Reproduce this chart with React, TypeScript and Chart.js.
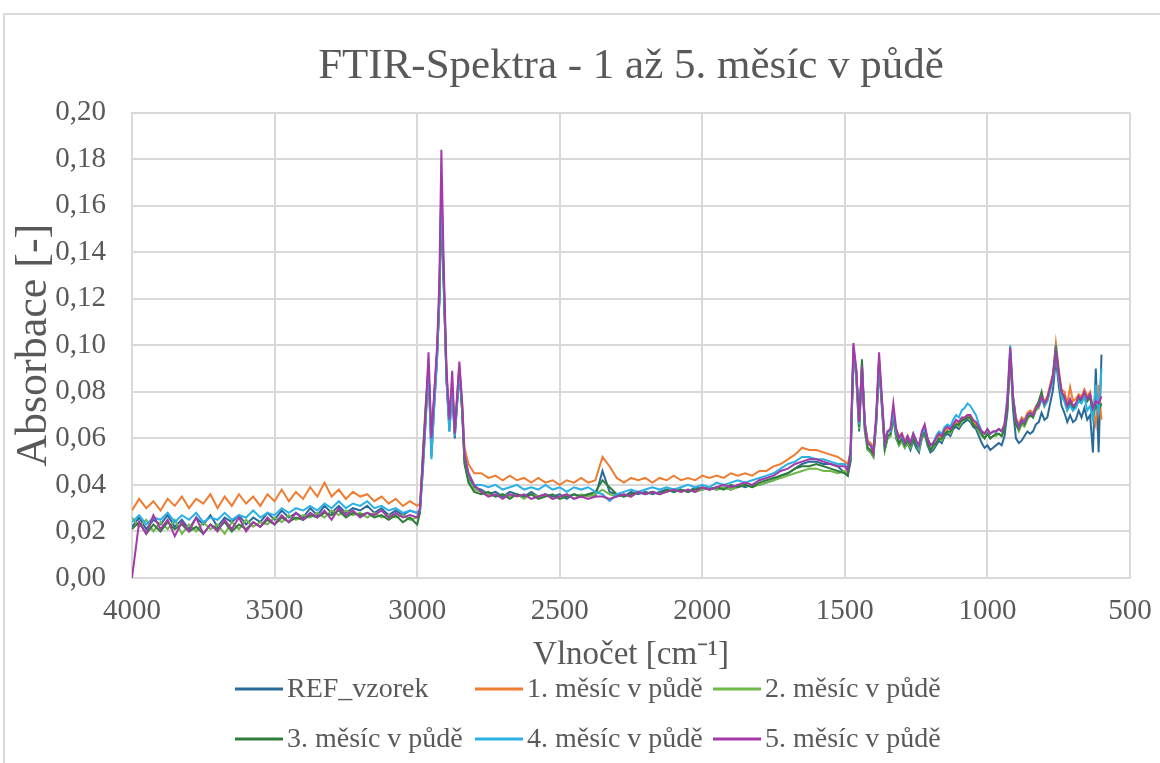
import React, { useEffect, useRef } from 'react';
import { Chart, registerables } from 'chart.js';

Chart.register(...registerables);

// Wavenumbers [cm-1] shared by all series
const wavenumbers = [
  4000, 3975, 3950, 3925, 3900, 3875, 3850, 3825, 3800, 3775,
  3750, 3725, 3700, 3675, 3650, 3625, 3600, 3575, 3550, 3525,
  3500, 3475, 3450, 3425, 3400, 3375, 3350, 3325, 3300, 3275,
  3250, 3225, 3200, 3175, 3150, 3125, 3100, 3075, 3050, 3025,
  3000,
  2990, 2980, 2970, 2960, 2950, 2940, 2930, 2922, 2915, 2907,
  2897, 2887, 2877, 2868, 2860, 2852, 2842, 2834, 2820, 2800,
  2775, 2750, 2725, 2700, 2675, 2650, 2625, 2600, 2575, 2550,
  2525, 2500, 2475, 2450, 2425, 2400, 2375, 2350, 2325, 2300,
  2275, 2250, 2225, 2200, 2175, 2150, 2125, 2100, 2075, 2050,
  2025, 2000, 1975, 1950, 1925, 1900, 1875, 1850, 1825, 1800,
  1775, 1750, 1725, 1700, 1675, 1650, 1625, 1600, 1575, 1550,
  1525,
  1500, 1490, 1480, 1470, 1460, 1450, 1440, 1430, 1420, 1410,
  1400, 1390, 1380, 1370, 1360, 1350, 1340, 1330, 1320, 1310,
  1300, 1290, 1280, 1270, 1260, 1250, 1240, 1230, 1220, 1210,
  1200, 1190, 1180, 1170, 1160, 1150, 1140, 1130, 1120, 1110,
  1100, 1090, 1080, 1070, 1060, 1050, 1040, 1030, 1020, 1010,
  1000, 990, 980, 970, 960, 950, 940, 930, 920, 910,
  900, 890, 880, 870, 860, 850, 840, 830, 820, 810,
  800, 790, 780, 770, 760, 750, 740, 730, 720, 710,
  700, 690, 680, 670, 660, 650, 640, 630, 620, 610,
  600,
];

const refVzorek = [
  0.022, 0.026, 0.021, 0.025, 0.023, 0.027, 0.022, 0.025, 0.021, 0.026,
  0.023, 0.027, 0.022, 0.026, 0.024, 0.027, 0.023, 0.026, 0.024, 0.028,
  0.025, 0.029, 0.026, 0.028, 0.026, 0.030, 0.027, 0.031, 0.028, 0.031,
  0.028, 0.030, 0.029, 0.031, 0.028, 0.030, 0.027, 0.029, 0.027, 0.029,
  0.028,
  0.029, 0.046, 0.068, 0.090, 0.052, 0.074, 0.095, 0.120, 0.170, 0.128,
  0.085, 0.063, 0.081, 0.060, 0.075, 0.089, 0.072, 0.051, 0.043, 0.039,
  0.038, 0.036, 0.037, 0.035, 0.037, 0.036, 0.035, 0.037, 0.035, 0.036,
  0.035, 0.036, 0.034, 0.036, 0.035, 0.036, 0.035, 0.046, 0.037, 0.036,
  0.035, 0.037, 0.036, 0.037, 0.036, 0.037, 0.038, 0.037, 0.038, 0.037,
  0.039, 0.038, 0.039, 0.038, 0.039, 0.038, 0.040, 0.039, 0.040, 0.040,
  0.041, 0.042, 0.044, 0.045, 0.047, 0.049, 0.050, 0.050, 0.049, 0.049,
  0.048,
  0.045, 0.044, 0.050, 0.096, 0.086, 0.063, 0.089, 0.063, 0.055, 0.054,
  0.052, 0.066, 0.091, 0.073, 0.055, 0.060, 0.061, 0.069, 0.060, 0.057,
  0.059, 0.056, 0.058, 0.055, 0.059, 0.056, 0.054, 0.060, 0.062, 0.057,
  0.054, 0.055, 0.057, 0.059, 0.058, 0.061, 0.062, 0.061, 0.064, 0.065,
  0.064, 0.066, 0.067, 0.068, 0.067, 0.065, 0.064, 0.061, 0.058, 0.056,
  0.057, 0.055, 0.056, 0.057, 0.058, 0.057, 0.061, 0.071, 0.097, 0.072,
  0.060, 0.058, 0.059, 0.061, 0.063, 0.062, 0.063, 0.066, 0.067, 0.071,
  0.068, 0.069, 0.075, 0.081, 0.094, 0.083, 0.074, 0.071, 0.067, 0.070,
  0.067, 0.068, 0.072, 0.069, 0.073, 0.068, 0.070, 0.054, 0.090, 0.054,
  0.096,
];

const mesic1 = [
  0.029, 0.034, 0.030, 0.033, 0.029, 0.034, 0.031, 0.035, 0.030, 0.034,
  0.032, 0.036, 0.030, 0.035, 0.031, 0.036, 0.032, 0.035, 0.031, 0.036,
  0.033, 0.038, 0.033, 0.037, 0.034, 0.039, 0.035, 0.041, 0.035, 0.038,
  0.034, 0.037, 0.035, 0.036, 0.033, 0.035, 0.032, 0.034, 0.031, 0.033,
  0.031,
  0.032, 0.050, 0.070, 0.088, 0.058, 0.078, 0.097, 0.122, 0.160, 0.130,
  0.088, 0.068, 0.083, 0.064, 0.078, 0.091, 0.075, 0.056, 0.049, 0.045,
  0.045, 0.043, 0.044, 0.042, 0.044, 0.042, 0.043, 0.041, 0.043, 0.041,
  0.042, 0.040, 0.042, 0.041, 0.043, 0.041, 0.042, 0.052, 0.048, 0.043,
  0.041, 0.043, 0.042, 0.043, 0.041, 0.043, 0.042, 0.044, 0.042, 0.043,
  0.042, 0.044, 0.043, 0.044, 0.043, 0.045, 0.044, 0.045, 0.044, 0.046,
  0.046, 0.048, 0.049, 0.051, 0.053, 0.056, 0.055, 0.055, 0.054, 0.053,
  0.052,
  0.050, 0.049, 0.054, 0.097, 0.088, 0.067, 0.090, 0.067, 0.059, 0.058,
  0.056, 0.067, 0.092, 0.076, 0.059, 0.063, 0.064, 0.071, 0.064, 0.061,
  0.062, 0.059, 0.061, 0.058, 0.062, 0.059, 0.057, 0.062, 0.064, 0.060,
  0.057, 0.058, 0.060, 0.061, 0.061, 0.063, 0.064, 0.064, 0.066, 0.067,
  0.066, 0.068, 0.069, 0.070, 0.069, 0.067, 0.066, 0.065, 0.063, 0.062,
  0.064, 0.062, 0.063, 0.063, 0.064, 0.063, 0.066, 0.074, 0.097, 0.077,
  0.069, 0.066, 0.069, 0.068, 0.071, 0.072, 0.071, 0.074, 0.075, 0.078,
  0.076, 0.078, 0.083, 0.088, 0.101, 0.090, 0.081, 0.080, 0.075, 0.082,
  0.076, 0.077, 0.079, 0.078, 0.081, 0.078, 0.080, 0.072, 0.066, 0.083,
  0.068,
];

const mesic2 = [
  0.026, 0.022, 0.025, 0.020, 0.024, 0.021, 0.025, 0.019, 0.023, 0.020,
  0.024, 0.021, 0.023, 0.019, 0.024, 0.021, 0.025, 0.022, 0.024, 0.023,
  0.026, 0.024, 0.027, 0.025, 0.027, 0.026, 0.028, 0.026, 0.029, 0.027,
  0.029, 0.027, 0.028, 0.026, 0.028, 0.026, 0.027, 0.026, 0.027, 0.025,
  0.026,
  0.030, 0.054, 0.075, 0.091, 0.060, 0.078, 0.097, 0.120, 0.162, 0.128,
  0.086, 0.066, 0.082, 0.062, 0.076, 0.090, 0.072, 0.050, 0.042, 0.038,
  0.037, 0.036, 0.035, 0.036, 0.035, 0.036, 0.034, 0.036, 0.035, 0.036,
  0.034, 0.035, 0.036, 0.034, 0.036, 0.035, 0.036, 0.038, 0.036, 0.035,
  0.036, 0.035, 0.037, 0.036, 0.037, 0.036, 0.037, 0.038, 0.037, 0.038,
  0.037, 0.038, 0.039, 0.038, 0.039, 0.038, 0.039, 0.040, 0.039, 0.040,
  0.041, 0.042, 0.043, 0.044, 0.045, 0.046, 0.047, 0.047, 0.046, 0.046,
  0.045,
  0.046, 0.045, 0.052, 0.097, 0.087, 0.064, 0.092, 0.064, 0.055, 0.054,
  0.052, 0.067, 0.093, 0.075, 0.055, 0.060, 0.061, 0.070, 0.061, 0.057,
  0.059, 0.056, 0.058, 0.056, 0.060, 0.057, 0.055, 0.060, 0.063, 0.058,
  0.055, 0.056, 0.058, 0.060, 0.059, 0.062, 0.063, 0.062, 0.065, 0.066,
  0.065, 0.067, 0.068, 0.069, 0.068, 0.066, 0.065, 0.063, 0.061, 0.060,
  0.062, 0.060, 0.061, 0.061, 0.062, 0.061, 0.064, 0.073, 0.096, 0.075,
  0.066, 0.063, 0.066, 0.065, 0.068, 0.070, 0.069, 0.072, 0.073, 0.077,
  0.074, 0.076, 0.081, 0.086, 0.098, 0.087, 0.078, 0.076, 0.072, 0.075,
  0.072, 0.074, 0.077, 0.076, 0.079, 0.076, 0.078, 0.071, 0.074, 0.073,
  0.075,
];

const mesic3 = [
  0.021, 0.024, 0.019, 0.023, 0.020, 0.024, 0.021, 0.023, 0.020, 0.022,
  0.019, 0.023, 0.021, 0.024, 0.020, 0.023, 0.021, 0.024, 0.022, 0.025,
  0.023, 0.026, 0.024, 0.026, 0.025, 0.027, 0.026, 0.028, 0.027, 0.029,
  0.026, 0.028, 0.027, 0.028, 0.026, 0.027, 0.025, 0.027, 0.024, 0.026,
  0.023,
  0.028, 0.052, 0.073, 0.090, 0.058, 0.077, 0.096, 0.119, 0.160, 0.126,
  0.085, 0.067, 0.081, 0.063, 0.075, 0.089, 0.071, 0.049, 0.041, 0.037,
  0.036, 0.037, 0.035, 0.036, 0.034, 0.036, 0.035, 0.036, 0.034, 0.035,
  0.036, 0.034, 0.035, 0.036, 0.035, 0.036, 0.037, 0.042, 0.039, 0.036,
  0.035, 0.036, 0.037, 0.036, 0.037, 0.036, 0.038, 0.037, 0.038, 0.037,
  0.038, 0.039, 0.038, 0.039, 0.038, 0.040, 0.039, 0.040, 0.039, 0.041,
  0.042, 0.043, 0.044, 0.045, 0.047, 0.048, 0.048, 0.049, 0.048, 0.047,
  0.046,
  0.045, 0.044, 0.051, 0.096, 0.089, 0.065, 0.094, 0.065, 0.056, 0.055,
  0.053, 0.068, 0.093, 0.075, 0.056, 0.061, 0.062, 0.070, 0.062, 0.058,
  0.060, 0.057, 0.059, 0.057, 0.060, 0.057, 0.056, 0.061, 0.063, 0.058,
  0.055, 0.057, 0.058, 0.060, 0.060, 0.062, 0.063, 0.063, 0.065, 0.066,
  0.066, 0.068, 0.068, 0.069, 0.069, 0.066, 0.065, 0.064, 0.062, 0.060,
  0.062, 0.060, 0.061, 0.062, 0.062, 0.061, 0.064, 0.073, 0.097, 0.075,
  0.066, 0.064, 0.067, 0.066, 0.069, 0.070, 0.069, 0.073, 0.076, 0.080,
  0.074, 0.077, 0.081, 0.087, 0.100, 0.088, 0.079, 0.077, 0.073, 0.076,
  0.073, 0.074, 0.077, 0.076, 0.079, 0.076, 0.078, 0.070, 0.074, 0.072,
  0.075,
];

const mesic4 = [
  0.024, 0.027, 0.023, 0.026, 0.025, 0.028, 0.024, 0.027, 0.025, 0.028,
  0.024, 0.026, 0.025, 0.028, 0.025, 0.027, 0.026, 0.029, 0.026, 0.028,
  0.027, 0.030, 0.028, 0.030, 0.029, 0.031, 0.029, 0.032, 0.030, 0.033,
  0.030, 0.032, 0.031, 0.033, 0.030, 0.031, 0.029, 0.030, 0.028, 0.029,
  0.028,
  0.029, 0.047, 0.068, 0.091, 0.051, 0.074, 0.094, 0.121, 0.168, 0.130,
  0.086, 0.063, 0.080, 0.061, 0.074, 0.090, 0.073, 0.053, 0.045, 0.040,
  0.040, 0.039, 0.040, 0.038, 0.039, 0.040, 0.038, 0.039, 0.038, 0.040,
  0.038, 0.039, 0.037, 0.039, 0.038, 0.039, 0.037, 0.036, 0.033, 0.036,
  0.037, 0.038, 0.037, 0.038, 0.039, 0.038, 0.039, 0.038, 0.039, 0.040,
  0.039, 0.040, 0.039, 0.041, 0.040, 0.041, 0.042, 0.041, 0.042, 0.043,
  0.044, 0.045, 0.047, 0.049, 0.050, 0.052, 0.052, 0.051, 0.051, 0.050,
  0.049,
  0.049, 0.047, 0.053, 0.099, 0.089, 0.066, 0.091, 0.067, 0.058, 0.057,
  0.055, 0.068, 0.094, 0.076, 0.058, 0.063, 0.063, 0.071, 0.063, 0.060,
  0.061, 0.058, 0.061, 0.058, 0.062, 0.059, 0.056, 0.062, 0.064, 0.060,
  0.057, 0.058, 0.061, 0.063, 0.062, 0.065, 0.066, 0.065, 0.068, 0.070,
  0.069, 0.072, 0.073, 0.075, 0.074, 0.072, 0.070, 0.066, 0.063, 0.062,
  0.064, 0.062, 0.063, 0.063, 0.064, 0.063, 0.066, 0.078, 0.100, 0.078,
  0.068, 0.065, 0.068, 0.067, 0.070, 0.071, 0.070, 0.073, 0.074, 0.077,
  0.074, 0.076, 0.081, 0.086, 0.097, 0.086, 0.078, 0.076, 0.072, 0.074,
  0.072, 0.073, 0.076, 0.075, 0.078, 0.072, 0.074, 0.068, 0.083, 0.070,
  0.090,
];

const mesic5 = [
  0.000, 0.024, 0.019, 0.027, 0.021, 0.025, 0.018, 0.024, 0.020, 0.026,
  0.019, 0.023, 0.020, 0.025, 0.021, 0.026, 0.020, 0.024, 0.022, 0.026,
  0.023, 0.027, 0.024, 0.028, 0.025, 0.028, 0.026, 0.029, 0.025, 0.030,
  0.027, 0.029, 0.026, 0.028, 0.027, 0.029, 0.026, 0.028, 0.026, 0.027,
  0.026,
  0.030, 0.050, 0.072, 0.097, 0.060, 0.080, 0.100, 0.128, 0.184, 0.135,
  0.090, 0.068, 0.089, 0.062, 0.078, 0.093, 0.075, 0.053, 0.045, 0.040,
  0.037, 0.035, 0.036, 0.034, 0.036, 0.035, 0.036, 0.034, 0.035, 0.036,
  0.034, 0.035, 0.036, 0.034, 0.035, 0.034, 0.035, 0.035, 0.034, 0.035,
  0.036, 0.035, 0.037, 0.036, 0.037, 0.036, 0.037, 0.038, 0.037, 0.038,
  0.037, 0.039, 0.038, 0.039, 0.040, 0.039, 0.040, 0.041, 0.040, 0.042,
  0.043, 0.044, 0.046, 0.047, 0.049, 0.050, 0.051, 0.051, 0.050, 0.049,
  0.048,
  0.048, 0.046, 0.055, 0.101, 0.090, 0.067, 0.091, 0.066, 0.058, 0.057,
  0.054, 0.070, 0.097, 0.077, 0.058, 0.063, 0.064, 0.075, 0.064, 0.060,
  0.062, 0.058, 0.061, 0.058, 0.062, 0.059, 0.057, 0.063, 0.066, 0.060,
  0.057, 0.058, 0.060, 0.062, 0.061, 0.064, 0.065, 0.064, 0.066, 0.068,
  0.067, 0.069, 0.069, 0.070, 0.070, 0.068, 0.067, 0.065, 0.063, 0.062,
  0.064, 0.062, 0.063, 0.063, 0.064, 0.063, 0.066, 0.076, 0.099, 0.078,
  0.068, 0.065, 0.068, 0.067, 0.070, 0.071, 0.070, 0.073, 0.074, 0.078,
  0.075, 0.077, 0.082, 0.087, 0.097, 0.088, 0.080, 0.078, 0.074, 0.077,
  0.074, 0.075, 0.078, 0.077, 0.080, 0.077, 0.079, 0.073, 0.076, 0.075,
  0.078,
];

const seriesLabels = [
  'REF_vzorek',
  '1. měsíc v půdě',
  '2. měsíc v půdě',
  '3. měsíc v půdě',
  '4. měsíc v půdě',
  '5. měsíc v půdě',
];
const seriesColors = ['#2A6A98', '#ED7D31', '#70B84A', '#2E7D3A', '#2BB0E6', '#A43AA8'];

const chartTitle = 'FTIR-Spektra - 1 až 5. měsíc v půdě';
const xAxisTitle = 'Vlnočet [cm⁻¹]';
const yAxisTitle = 'Absorbace [-]';

const SERIF = "'Liberation Serif', 'Times New Roman', Times, serif";
const TEXT_COLOR = '#595959';
const GRID_COLOR = '#D9D9D9';

// legend layout (Excel-like fixed columns)
const LEGEND_COLS = [235, 475, 713];
const LEGEND_ROWS = [689, 739];

const backgroundPlugin = {
  id: 'bgBorder',
  beforeDraw(chart: any) {
    const ctx = chart.ctx;
    ctx.save();
    ctx.fillStyle = '#ffffff';
    ctx.fillRect(0, 0, chart.width, chart.height);
    ctx.strokeStyle = GRID_COLOR;
    ctx.lineWidth = 2;
    ctx.beginPath();
    ctx.moveTo(4, chart.height + 5);
    ctx.lineTo(4, 14);
    ctx.lineTo(chart.width + 5, 14);
    ctx.stroke();
    ctx.restore();
  },
};

const legendPlugin = {
  id: 'excelLegend',
  afterDraw(chart: any) {
    const ctx = chart.ctx;
    ctx.save();
    ctx.font = `28px ${SERIF}`;
    ctx.textBaseline = 'middle';
    ctx.textAlign = 'left';
    chart.data.datasets.forEach((ds: any, i: number) => {
      const x = LEGEND_COLS[i % 3];
      const y = LEGEND_ROWS[Math.floor(i / 3)];
      ctx.strokeStyle = ds.borderColor;
      ctx.lineWidth = 3;
      ctx.beginPath();
      ctx.moveTo(x, y);
      ctx.lineTo(x + 48, y);
      ctx.stroke();
      ctx.fillStyle = TEXT_COLOR;
      ctx.fillText(ds.label, x + 52, y + 1);
    });
    ctx.restore();
  },
};

export default function App() {
  const canvasRef = useRef<HTMLCanvasElement>(null);

  useEffect(() => {
    document.body.style.margin = '0';
    const series = [refVzorek, mesic1, mesic2, mesic3, mesic4, mesic5];
    const datasets = series.map((vals, i) => ({
      label: seriesLabels[i],
      data: wavenumbers.map((w, j) => ({ x: w, y: vals[j] })),
      borderColor: seriesColors[i],
      backgroundColor: seriesColors[i],
      borderWidth: 2,
      pointRadius: 0,
      tension: 0,
      fill: false,
      order: series.length - i,
    }));

    const chart = new Chart(canvasRef.current as HTMLCanvasElement, {
      type: 'line',
      data: { datasets },
      options: {
        responsive: false,
        animation: false,
        devicePixelRatio: 1,
        layout: { padding: { left: 0, right: 30, top: 0, bottom: 83 } },
        plugins: {
          legend: { display: false },
          tooltip: { enabled: false },
          title: {
            display: true,
            fullSize: false,
            text: chartTitle,
            color: TEXT_COLOR,
            font: { family: SERIF, size: 43, weight: 'normal' },
            padding: { top: 41, bottom: 20 },
          },
        },
        scales: {
          x: {
            type: 'linear',
            reverse: true,
            min: 500,
            max: 4000,
            afterFit: (scale: any) => {
              scale.height = 102;
              scale.paddingLeft = 0;
              scale.paddingRight = 0;
            },
            ticks: {
              stepSize: 500,
              color: TEXT_COLOR,
              font: { family: SERIF, size: 29 },
              padding: 16,
              maxRotation: 0,
              callback: (v: any) => String(v),
            },
            grid: { color: GRID_COLOR, lineWidth: 2, drawTicks: false },
            border: { color: GRID_COLOR, width: 2 },
            title: {
              display: true,
              text: xAxisTitle,
              color: TEXT_COLOR,
              font: { family: SERIF, size: 33 },
              padding: { top: 0, bottom: 5 },
            },
          },
          y: {
            type: 'linear',
            min: 0,
            max: 0.2,
            afterFit: (scale: any) => {
              scale.width = 132;
            },
            ticks: {
              stepSize: 0.02,
              color: TEXT_COLOR,
              font: { family: SERIF, size: 29 },
              padding: 26,
              callback: (v: any) => Number(v).toFixed(2).replace('.', ','),
            },
            grid: { color: GRID_COLOR, lineWidth: 2, drawTicks: false },
            border: { color: GRID_COLOR, width: 2 },
            title: {
              display: true,
              text: yAxisTitle,
              color: TEXT_COLOR,
              font: { family: SERIF, size: 44 },
              padding: { top: 8, bottom: 0 },
            },
          },
        },
      },
      plugins: [backgroundPlugin, legendPlugin],
    } as any);

    return () => chart.destroy();
  }, []);

  return (
    <div style={{ width: 1160, height: 763 }}>
      <canvas
        ref={canvasRef}
        width={1160}
        height={763}
        style={{ display: 'block', width: 1160, height: 763 }}
      />
    </div>
  );
}
